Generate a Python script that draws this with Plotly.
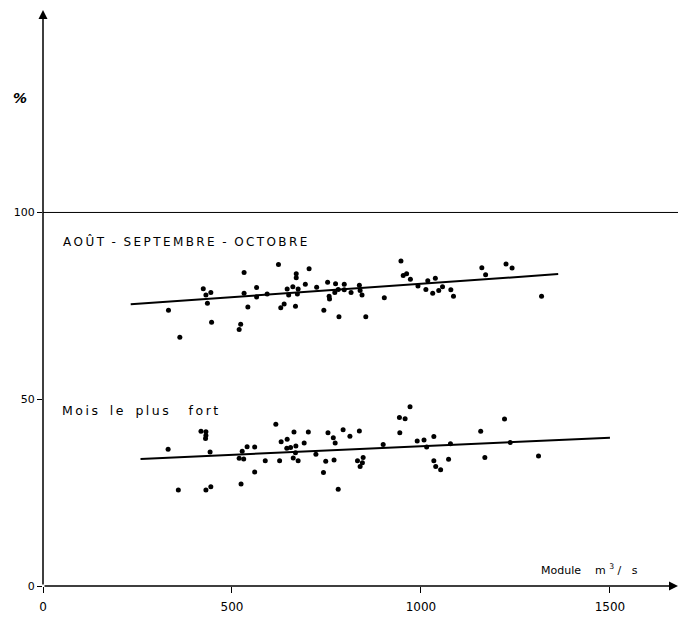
import plotly.graph_objects as go

# Module (m3/s) and share (%) for August-September-October
aso_module = [332, 362, 424, 431, 444, 435, 446, 532, 532, 542, 523, 519, 565, 565,
              593, 623, 629, 638, 646, 650, 661, 670, 670, 675, 673, 668, 694, 704,
              724, 753, 774, 772, 781, 757, 758, 743, 783, 797, 797, 815, 837, 839,
              844, 854, 903, 947, 953, 962, 972, 992, 1013, 1018, 1031, 1038, 1047,
              1057, 1079, 1086, 1161, 1171, 1225, 1241, 1319]
aso_pct = [73.8, 66.6, 79.6, 77.9, 78.6, 75.7, 70.6, 83.9, 78.4, 74.7, 70.1, 68.7, 79.9, 77.4,
           78.2, 86.1, 74.5, 75.5, 79.5, 77.9, 80.1, 83.6, 82.5, 79.5, 78.2, 74.9, 80.8, 84.9,
           80.0, 81.3, 80.9, 78.6, 79.4, 77.6, 76.8, 73.8, 72.1, 80.8, 79.3, 78.6, 80.5, 79.1,
           77.9, 72.1, 77.2, 87.0, 83.1, 83.6, 82.1, 80.3, 79.4, 81.7, 78.4, 82.4, 79.1,
           80.1, 79.3, 77.6, 85.2, 83.3, 86.2, 85.1, 77.6]

# Module (m3/s) and share (%) for the wettest month
max_module = [331, 358, 418, 431, 431, 430, 442, 431, 444, 524, 519, 531, 527, 540, 560, 560,
              588, 616, 626, 630, 646, 664, 645, 655, 669, 668, 662, 675, 691, 702, 722,
              742, 748, 754, 768, 773, 770, 781, 794, 812, 832, 837, 845, 847, 839, 900,
              943, 958, 971, 944, 990, 1008, 1015, 1034, 1034, 1039, 1052, 1073, 1078,
              1158, 1169, 1221, 1236, 1311]
max_pct = [36.6, 25.7, 41.4, 41.3, 40.3, 39.5, 35.9, 25.7, 26.6, 27.3, 34.2, 34.0, 36.1, 37.3, 37.2, 30.5,
           33.5, 43.3, 33.5, 38.6, 39.3, 41.2, 36.9, 37.1, 37.5, 35.7, 34.3, 33.5, 38.3, 41.2, 35.3,
           30.4, 33.4, 41.0, 39.7, 38.3, 33.7, 25.9, 41.8, 40.1, 33.5, 41.5, 33.0, 34.4, 32.0, 37.9,
           45.1, 44.8, 48.0, 41.0, 38.8, 39.1, 37.2, 40.0, 33.5, 32.0, 31.1, 33.9, 38.1,
           41.4, 34.4, 44.7, 38.4, 34.8]

# Fitted trend lines (end points)
aso_fit_x = [232, 1363]
aso_fit_y = [75.4, 83.5]
max_fit_x = [258, 1500]
max_fit_y = [34.0, 39.7]

x_ticks = [0, 500, 1000, 1500]
y_ticks = [0, 50, 100]

FONT = "DejaVu Sans"
X_MAX = 1680
Y_MAX = 154.2
THIN = "\u2009"
NB = "\u00a0"


def spaced(word):
    """Spread the letters of a word with thin spaces."""
    return THIN.join(word)


fig = go.Figure()
for xs, ys in [(aso_module, aso_pct), (max_module, max_pct)]:
    fig.add_trace(go.Scatter(x=xs, y=ys, mode="markers",
                             marker=dict(color="black", size=5), cliponaxis=False))
for xs, ys in [(aso_fit_x, aso_fit_y), (max_fit_x, max_fit_y)]:
    fig.add_trace(go.Scatter(x=xs, y=ys, mode="lines",
                             line=dict(color="black", width=2)))

# 100 % reference line
fig.add_shape(type="line", xref="x", yref="y", x0=0, x1=X_MAX, y0=100, y1=100,
              line=dict(color="black", width=1))

# Axes drawn as arrows
fig.add_annotation(x=X_MAX, y=0, ax=0, ay=0, xref="x", yref="y", axref="x", ayref="y",
                   showarrow=True, arrowhead=2, arrowsize=1.2, arrowwidth=1.5,
                   arrowcolor="black", text="")
fig.add_annotation(x=0, y=Y_MAX, ax=0, ay=0, xref="x", yref="y", axref="x", ayref="y",
                   showarrow=True, arrowhead=2, arrowsize=1.2, arrowwidth=1.5,
                   arrowcolor="black", text="")

fig.add_annotation(x=-0.05, y=130.6, xref="paper", yref="y", text="<b><i>%</i></b>",
                   showarrow=False, font=dict(family=FONT, size=14, color="black"))

season_text = (spaced("AOÛT") + NB * 2 + "-" + NB * 2 + spaced("SEPTEMBRE")
               + NB * 2 + "-" + NB * 2 + spaced("OCTOBRE"))
fig.add_annotation(x=47, y=92.3, xref="x", yref="y", xanchor="left",
                   text=season_text,
                   showarrow=False, font=dict(family=FONT, size=12, color="black"))

month_text = (spaced("Mois") + NB * 3 + spaced("le") + NB * 3 + spaced("plus")
              + NB * 5 + spaced("fort"))
fig.add_annotation(x=45, y=47, xref="x", yref="y", xanchor="left",
                   text=month_text,
                   showarrow=False, font=dict(family=FONT, size=12.5, color="black"))

fig.add_annotation(x=1312, y=4.3, xref="x", yref="y", xanchor="left",
                   text="Module" + NB * 4 + "m" + NB + "<sup>3</sup>" + NB + "/" + NB * 3 + "s",
                   showarrow=False, font=dict(family=FONT, size=11, color="black"))

fig.update_layout(
    width=678, height=623,
    margin=dict(l=43, r=0, t=10, b=37),
    paper_bgcolor="white", plot_bgcolor="white",
    showlegend=False,
    xaxis=dict(range=[0, X_MAX], tickvals=x_ticks, ticktext=[str(v) for v in x_ticks],
               ticks="outside", ticklen=6, tickcolor="black", tickwidth=1,
               ticklabelstandoff=4,
               showgrid=False, zeroline=False, showline=False,
               tickfont=dict(family=FONT, size=12, color="black")),
    yaxis=dict(range=[0, Y_MAX], tickvals=y_ticks, ticktext=[str(v) for v in y_ticks],
               ticks="outside", ticklen=5, tickcolor="black", tickwidth=1,
               showgrid=False, zeroline=False, showline=False,
               tickfont=dict(family=FONT, size=11, color="black")),
)

fig.write_html("out.html")
